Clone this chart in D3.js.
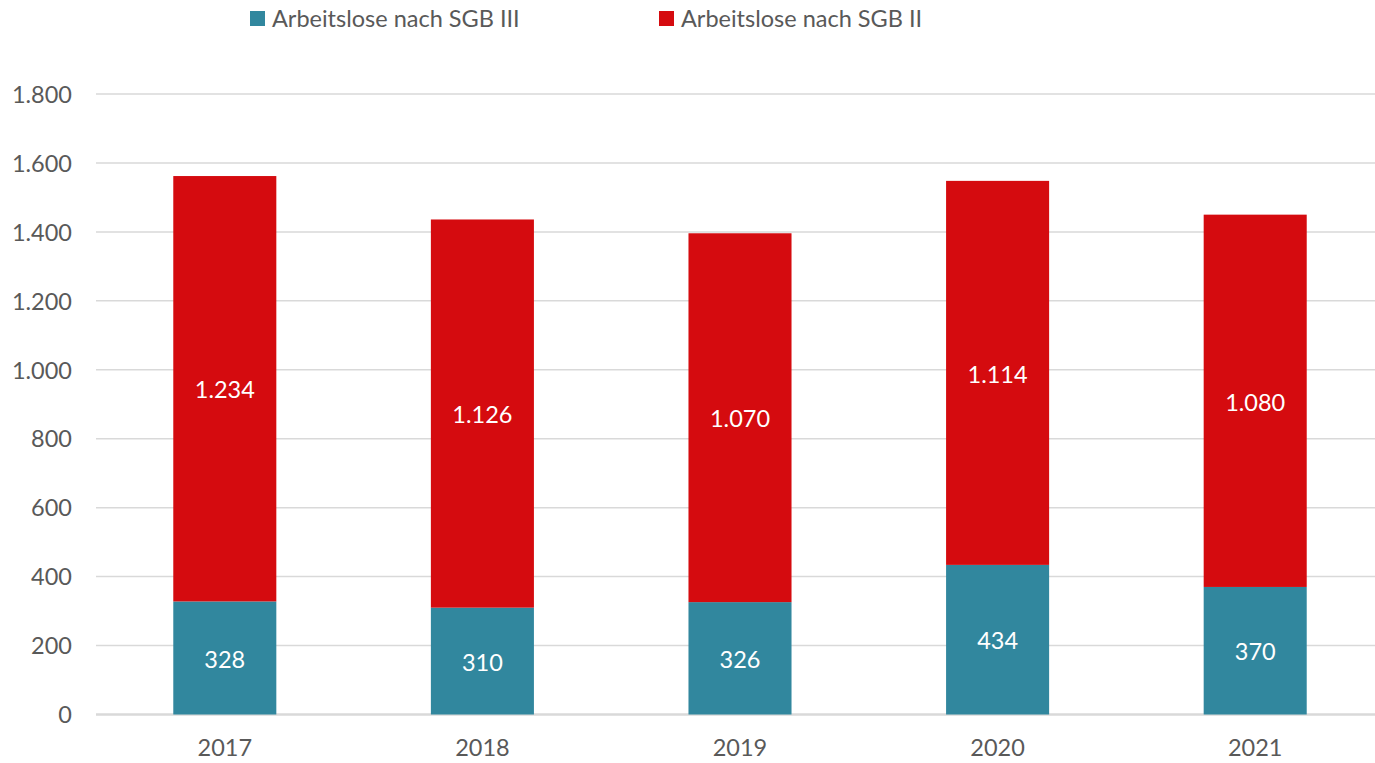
<!DOCTYPE html>
<html><head><meta charset="utf-8">
<script src="https://cdn.jsdelivr.net/npm/d3@7"></script>
<style>body{margin:0;background:#fff}svg{display:block}text{font-family:Lato,"Open Sans",sans-serif}</style>
</head><body><svg id="c" width="1375" height="763"></svg>
<script>
const years = ["2017","2018","2019","2020","2021"];
const sgb3 = [328, 310, 326, 434, 370];
const sgb2 = [1234, 1126, 1070, 1114, 1080];
const seriesNames = ["Arbeitslose nach SGB III", "Arbeitslose nach SGB II"];
const seriesColors = ["#31879E", "#D50B0F"];
const yTicks = [0,200,400,600,800,1000,1200,1400,1600,1800];

const FS = 23.5;
const fmt = v => d3.format(",")(v).replace(/,/g, ".");
const svg = d3.select("#c");
const x = d3.scaleBand().domain(years).range([96, 1384]).paddingInner(0.6).paddingOuter(0.3);
const y = d3.scaleLinear().domain([0, 1800]).range([714.5, 94]);

// gridlines
svg.append("g").selectAll("line").data(yTicks).join("line")
  .attr("x1", 96).attr("x2", 1375)
  .attr("y1", d => y(d)).attr("y2", d => y(d))
  .attr("stroke", "#d9d9d9").attr("stroke-width", d => d === 0 ? 2.5 : 1.5);

// y axis labels
const ya = svg.append("g").attr("transform", "translate(72,0)")
  .call(d3.axisLeft(y).tickValues(yTicks).tickSize(0).tickFormat(fmt));
ya.select(".domain").remove();
ya.selectAll("text").attr("font-size", FS).attr("fill", "#595959").attr("x", 0).attr("dy", "0.35em")
  .style("font-family", "Lato, 'Open Sans', sans-serif");

// x axis labels
const xa = svg.append("g").attr("transform", `translate(0,${y(0)})`)
  .call(d3.axisBottom(x).tickSize(0));
xa.select(".domain").remove();
xa.selectAll("text").attr("font-size", FS).attr("fill", "#595959").attr("y", 33).attr("dy", "0.35em")
  .style("font-family", "Lato, 'Open Sans', sans-serif");

const stackData = years.map((yr, i) => ({year: yr, s3: sgb3[i], s2: sgb2[i]}));
const stack = d3.stack().keys(["s3", "s2"])(stackData);

svg.append("g").selectAll("g").data(stack).join("g")
  .attr("fill", (d, i) => seriesColors[i])
  .selectAll("rect").data(d => d).join("rect")
  .attr("x", d => x(d.data.year)).attr("width", x.bandwidth())
  .attr("y", d => y(d[1])).attr("height", d => y(d[0]) - y(d[1]));

svg.append("g").selectAll("g").data(stack).join("g")
  .selectAll("text").data(d => d).join("text")
  .attr("x", d => x(d.data.year) + x.bandwidth() / 2)
  .attr("y", d => (y(d[0]) + y(d[1])) / 2 + 1.5)
  .attr("dy", "0.35em").attr("text-anchor", "middle")
  .attr("font-size", FS).attr("fill", "#fff")
  .text(d => fmt(d[1] - d[0]));

// legend
const legX = [250, 659];
const lg = svg.append("g").selectAll("g").data(seriesNames).join("g")
  .attr("transform", (d, i) => `translate(${legX[i]},11)`);
lg.append("rect").attr("width", 15).attr("height", 15).attr("fill", (d, i) => seriesColors[i]);
lg.append("text").attr("x", 22).attr("y", 8).attr("dy", "0.35em")
  .attr("font-size", FS).attr("fill", "#595959").text(d => d);
</script></body></html>
